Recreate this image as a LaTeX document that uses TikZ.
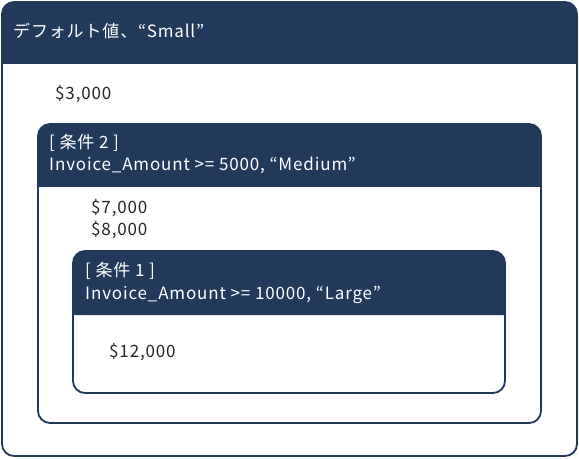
\documentclass[tikz,border=0pt]{standalone}
\usepackage{fontspec}
\setmainfont{Noto Sans CJK JP}[LetterSpace=5]
\usepackage{tikz}
\definecolor{navy}{HTML}{213A5C}
\definecolor{bodytext}{HTML}{262626}

\tikzset{
  frame/.style={draw=navy, line width=1.8bp, rounded corners=12bp},
  headfill/.style={fill=navy},
  headtext/.style={anchor=base west, inner sep=0pt, text=white,
    font=\fontsize{17bp}{22bp}\selectfont},
  amount/.style={anchor=base west, inner sep=0pt, text=bodytext,
    font=\fontsize{17bp}{22bp}\selectfont}
}

\begin{document}
\begin{tikzpicture}[x=1bp, y=-1bp]
\useasboundingbox (0,0) rectangle (579,459);

% outer panel (default)
\fill[headfill] (2,64) {[rounded corners=12bp] -- (2,2) -- (577,2)} -- (577,64) -- cycle;
\draw[frame] (2,2) rectangle (577,456);
\node[headtext] (defhead) at (13,38) {デフォルト値、“Small”};
\node[amount] (amt3000) at (55,100) {\$3,000};

% middle panel (condition 2)
\fill[headfill] (38,187) {[rounded corners=12bp] -- (38,124) -- (541,124)} -- (541,187) -- cycle;
\draw[frame] (38,124) rectangle (541,423);
\node[headtext] (cond2) at (49,149) {[ 条件 2 ]};
\node[headtext] (rule2) at (49,171) {Invoice\_Amount >= 5000, “Medium”};
\node[amount] (amt7000) at (91,214) {\$7,000};
\node[amount] (amt8000) at (91,236) {\$8,000};

% inner panel (condition 1)
\fill[headfill] (73,315) {[rounded corners=12bp] -- (73,251) -- (505,251)} -- (505,315) -- cycle;
\draw[frame] (73,251) rectangle (505,393);
\node[headtext] (cond1) at (85,277) {[ 条件 1 ]};
\node[headtext] (rule1) at (85,299) {Invoice\_Amount >= 10000, “Large”};
\node[amount] (amt12000) at (109,357) {\$12,000};
\end{tikzpicture}
\end{document}
